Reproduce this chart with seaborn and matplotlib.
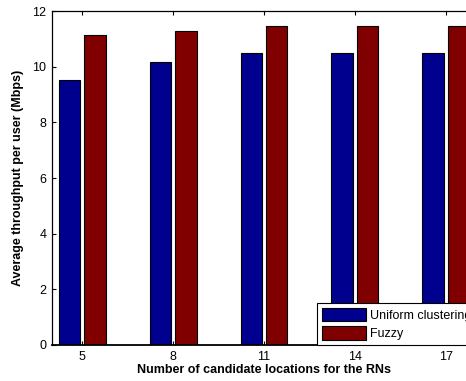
"""Average throughput per user vs number of candidate RN locations."""

import matplotlib
matplotlib.use("Agg")
import matplotlib.pyplot as plt
import pandas as pd
import seaborn as sns

sns.set_theme(style="ticks", context="paper")
plt.rcParams["font.family"] = ["Liberation Sans", "DejaVu Sans"]
plt.rcParams["text.color"] = "black"
plt.rcParams["xtick.color"] = "black"
plt.rcParams["ytick.color"] = "black"
plt.rcParams["axes.labelcolor"] = "black"

candidates = [5, 8, 11, 14, 17]
uniform = [9.53, 10.17, 10.49, 10.49, 10.49]
fuzzy = [11.15, 11.29, 11.47, 11.47, 11.47]
methods = ["Uniform clustering", "Fuzzy"]
COLORS = ["#00008f", "#800000"]

data = pd.DataFrame({
    "Candidates": candidates * 2,
    "Throughput": uniform + fuzzy,
    "Method": [methods[0]] * len(candidates) + [methods[1]] * len(candidates),
})

fig = plt.figure(figsize=(4.66, 3.81), dpi=100)
ax = fig.add_axes([0.1116, 0.0945, 0.91, 0.8766])
sns.barplot(data=data, x="Candidates", y="Throughput", hue="Method",
            native_scale=True, width=0.56, gap=0.16, palette=COLORS,
            saturation=1, edgecolor="black", linewidth=0.8, ax=ax)

ax.set_xlim(4, 18)
ax.set_ylim(0, 12)
ax.set_xticks(candidates)
ax.set_xticklabels([str(c) for c in candidates])
ax.set_yticks(range(0, 13, 2))
ax.tick_params(direction="in", length=3, width=0.8, labelsize=9,
               top=True, right=True, pad=4)
for side in ["left", "bottom", "top", "right"]:
    ax.spines[side].set_color("black")
    ax.spines[side].set_linewidth(0.9)
ax.spines["bottom"].set_linewidth(1.3)

ax.set_xlabel("Number of candidate locations for the RNs",
              fontsize=9, fontweight="bold", labelpad=1)
ax.set_ylabel("Average throughput per user (Mbps)",
              fontsize=9, fontweight="bold", labelpad=6)

leg = ax.legend(loc="lower left", bbox_to_anchor=(0.625, 0.0), fontsize=9,
                frameon=True, fancybox=False, framealpha=1,
                handlelength=3.5, handleheight=1.3, borderpad=0.4,
                labelspacing=0.35, handletextpad=0.3, borderaxespad=0)
leg.get_frame().set_edgecolor("black")
leg.get_frame().set_linewidth(0.8)

fig.savefig("out.png", dpi=100)
